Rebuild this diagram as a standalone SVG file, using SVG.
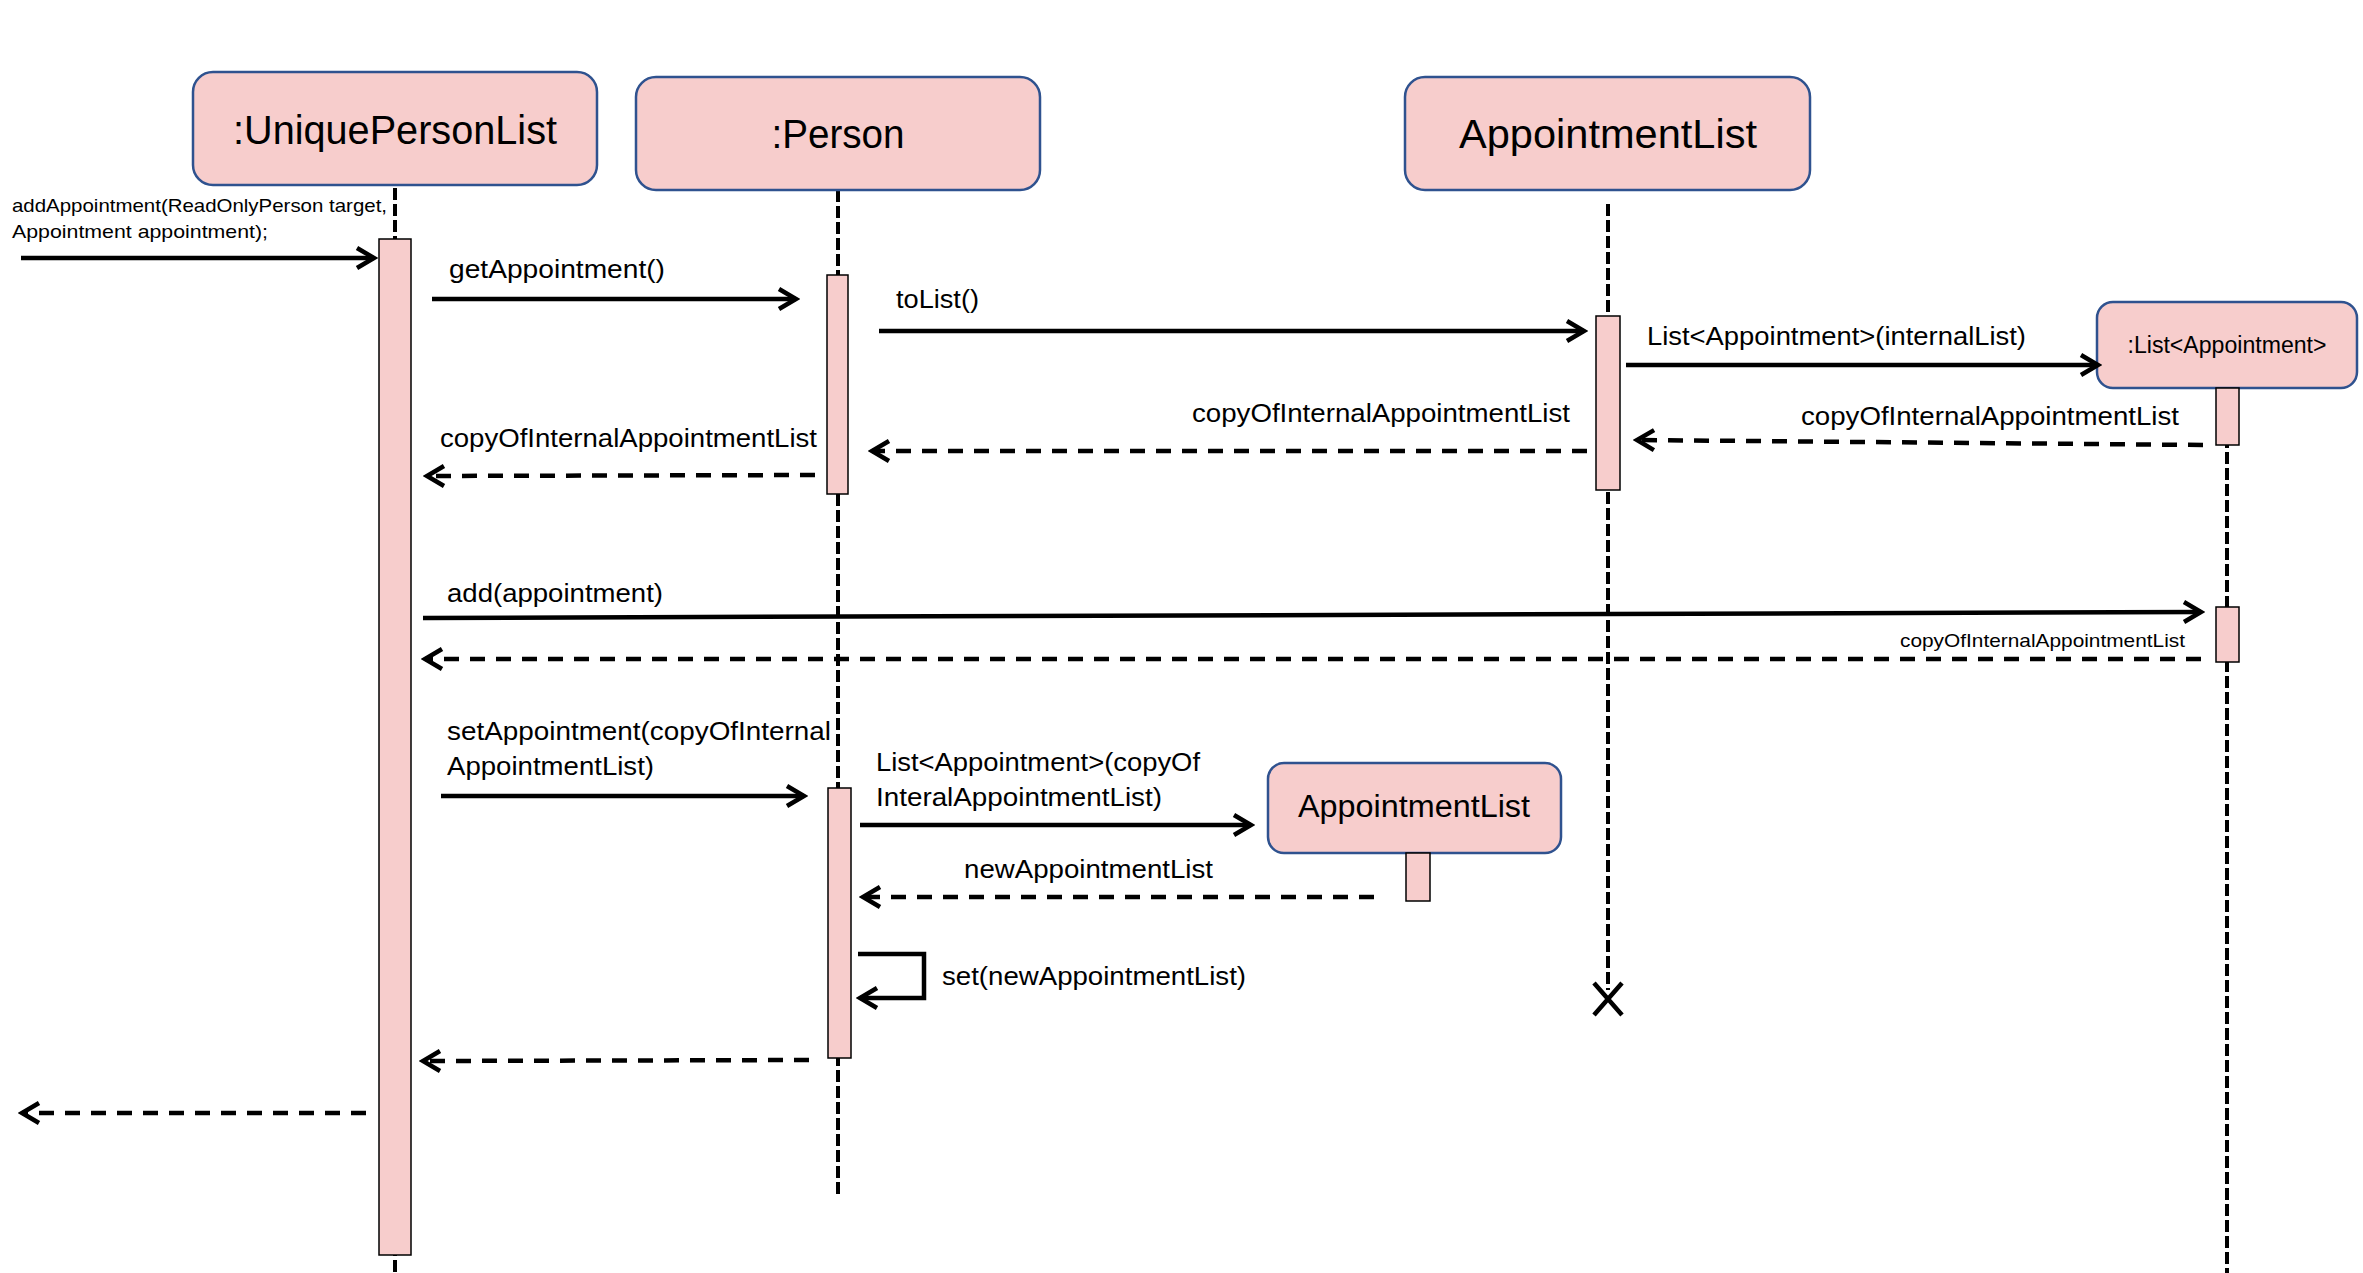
<svg xmlns="http://www.w3.org/2000/svg" width="2363" height="1273" viewBox="0 0 2363 1273">
<defs>
<style>
.box{fill:#F7CDCC;stroke:#2F528F;stroke-width:2.5}
.act{fill:#F7CDCC;stroke:#000;stroke-width:1.5}
.life{stroke:#000;stroke-width:4;stroke-dasharray:12 4;fill:none}
.msg{stroke:#000;stroke-width:4.5;fill:none;marker-end:url(#head)}
.ret{stroke:#000;stroke-width:4.5;fill:none;stroke-dasharray:15 11;marker-end:url(#head)}
.title{font-family:"Liberation Sans",Arial,sans-serif;font-size:40px;fill:#000;text-anchor:middle}
.lbl{font-family:"Liberation Sans",Arial,sans-serif;font-size:26px;fill:#000}
.sm{font-family:"Liberation Sans",Arial,sans-serif;font-size:19px;fill:#000}
</style>
<marker id="head" viewBox="-22 -14 26 28" refX="0" refY="0" markerWidth="26" markerHeight="28" markerUnits="userSpaceOnUse" orient="auto">
<path d="M-17,-10 L0,0 L-17,10" fill="none" stroke="#000" stroke-width="4.5" stroke-dasharray="none"/>
</marker>
</defs>
<rect width="2363" height="1273" fill="#fff"/>

<g id="lifelines">
<line class="life" x1="395" y1="188" x2="395" y2="1273"/>
<line class="life" x1="838" y1="190" x2="838" y2="1196"/>
<line class="life" x1="1608" y1="204" x2="1608" y2="990"/>
<line class="life" x1="2227" y1="388" x2="2227" y2="1273"/>
</g>

<g id="UniquePersonList">
<rect class="box" x="193" y="72" width="404" height="113" rx="20"/>
<text class="title" x="395" y="144" textLength="324" lengthAdjust="spacingAndGlyphs">:UniquePersonList</text>
<rect class="act" x="379" y="239" width="32" height="1016"/>
</g>

<g id="Person">
<rect class="box" x="636" y="77" width="404" height="113" rx="20"/>
<text class="title" x="838" y="148" textLength="133" lengthAdjust="spacingAndGlyphs">:Person</text>
<rect class="act" x="827" y="275" width="21" height="219"/>
<rect class="act" x="828" y="788" width="23" height="270"/>
</g>

<g id="AppointmentList">
<rect class="box" x="1405" y="77" width="405" height="113" rx="20"/>
<text class="title" x="1608" y="148" textLength="298" lengthAdjust="spacingAndGlyphs">AppointmentList</text>
<rect class="act" x="1596" y="316" width="24" height="174"/>
<path d="M1594,983 L1622,1015 M1622,983 L1594,1015" stroke="#000" stroke-width="4.5" fill="none"/>
</g>

<g id="ListAppointment">
<rect class="box" x="2097" y="302" width="260" height="86" rx="16"/>
<text class="title" style="font-size:23px" x="2227" y="353" textLength="199" lengthAdjust="spacingAndGlyphs">:List&lt;Appointment&gt;</text>
<rect class="act" x="2216" y="388" width="23" height="57"/>
<rect class="act" x="2216" y="607" width="23" height="55"/>
</g>

<g id="NewAppointmentList">
<rect class="box" x="1268" y="763" width="293" height="90" rx="16"/>
<text class="title" style="font-size:31px" x="1414" y="817" textLength="232" lengthAdjust="spacingAndGlyphs">AppointmentList</text>
<rect class="act" x="1406" y="853" width="24" height="48"/>
</g>

<g id="connectors">
<line class="msg" x1="21" y1="258" x2="374" y2="258"/>
<line class="msg" x1="432" y1="299" x2="796" y2="299"/>
<line class="msg" x1="879" y1="331" x2="1584" y2="331"/>
<line class="msg" x1="1626" y1="365" x2="2098" y2="365"/>
<line class="msg" x1="423" y1="618" x2="2201" y2="612"/>
<line class="msg" x1="441" y1="796" x2="804" y2="796"/>
<line class="msg" x1="860" y1="825" x2="1251" y2="825"/>
<polyline class="msg" points="858,954 924,954 924,998 860,998"/>
<line class="ret" x1="815" y1="475" x2="427" y2="476"/>
<line class="ret" x1="1587" y1="451" x2="872" y2="451"/>
<line class="ret" x1="2203" y1="445" x2="1637" y2="440"/>
<line class="ret" x1="2201" y1="659" x2="425" y2="659"/>
<line class="ret" x1="1374" y1="897" x2="863" y2="897"/>
<line class="ret" x1="809" y1="1060" x2="423" y2="1061"/>
<line class="ret" x1="366" y1="1113" x2="22" y2="1113"/>
</g>

<g id="labels">
<text class="sm" x="12" y="212" textLength="375" lengthAdjust="spacingAndGlyphs">addAppointment(ReadOnlyPerson target,</text>
<text class="sm" x="12" y="238" textLength="256" lengthAdjust="spacingAndGlyphs">Appointment appointment);</text>
<text class="lbl" x="449" y="278" textLength="216" lengthAdjust="spacingAndGlyphs">getAppointment()</text>
<text class="lbl" x="896" y="308" textLength="83" lengthAdjust="spacingAndGlyphs">toList()</text>
<text class="lbl" x="1647" y="345" textLength="379" lengthAdjust="spacingAndGlyphs">List&lt;Appointment&gt;(internalList)</text>
<text class="lbl" x="1192" y="422" textLength="378" lengthAdjust="spacingAndGlyphs">copyOfInternalAppointmentList</text>
<text class="lbl" x="1801" y="425" textLength="378" lengthAdjust="spacingAndGlyphs">copyOfInternalAppointmentList</text>
<text class="lbl" x="440" y="447" textLength="377" lengthAdjust="spacingAndGlyphs">copyOfInternalAppointmentList</text>
<text class="lbl" x="447" y="602" textLength="216" lengthAdjust="spacingAndGlyphs">add(appointment)</text>
<text class="sm" x="1900" y="647" textLength="285" lengthAdjust="spacingAndGlyphs">copyOfInternalAppointmentList</text>
<text class="lbl" x="447" y="740" textLength="384" lengthAdjust="spacingAndGlyphs">setAppointment(copyOfInternal</text>
<text class="lbl" x="447" y="775" textLength="207" lengthAdjust="spacingAndGlyphs">AppointmentList)</text>
<text class="lbl" x="876" y="771" textLength="324" lengthAdjust="spacingAndGlyphs">List&lt;Appointment&gt;(copyOf</text>
<text class="lbl" x="876" y="806" textLength="286" lengthAdjust="spacingAndGlyphs">InteralAppointmentList)</text>
<text class="lbl" x="964" y="878" textLength="249" lengthAdjust="spacingAndGlyphs">newAppointmentList</text>
<text class="lbl" x="942" y="985" textLength="304" lengthAdjust="spacingAndGlyphs">set(newAppointmentList)</text>
</g>
</svg>
